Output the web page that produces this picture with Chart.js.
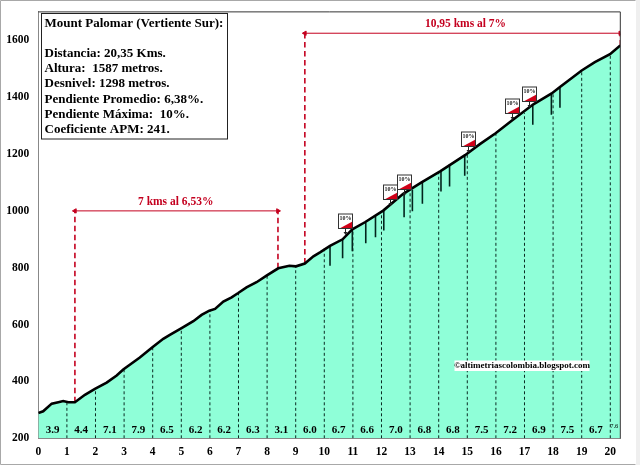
<!DOCTYPE html>
<html>
<head>
<meta charset="utf-8">
<title>Mount Palomar</title>
<script src="https://cdn.jsdelivr.net/npm/chart.js"></script>
<style>
  html, body { margin: 0; padding: 0; background: #fff; }
  #wrap { position: relative; width: 640px; height: 465px; overflow: hidden; }
  canvas { display: block; }
</style>
</head>
<body>
<div id="wrap"><canvas id="profile" width="640" height="465"></canvas></div>
<script>
// profile
const profileKm = [0, 0.17, 0.47, 0.7, 0.87, 1.05, 1.28, 1.63, 1.98, 2.39, 2.74, 2.97, 3.55, 3.99, 4.37, 4.6, 5.01, 5.42, 5.71, 5.98, 6.18, 6.47, 6.76, 6.99, 7.28, 7.63, 7.98, 8.39, 8.78, 9.01, 9.32, 9.62, 9.85, 10.2, 10.64, 10.98, 11.42, 12.06, 12.76, 13.4, 14.05, 14.92, 15.44, 15.99, 16.55, 17.31, 17.95, 18.24, 19, 19.46, 19.99, 20.35];
const profileElev = [289, 295, 322, 327, 331, 327, 327, 353, 374, 396, 421, 442, 484, 520, 550, 564, 588, 612, 634, 649, 655, 681, 696, 711, 731, 749, 772, 798, 807, 805, 815, 840, 854, 877, 900, 935, 960, 1001, 1060, 1100, 1139, 1196, 1235, 1273, 1317, 1375, 1413, 1436, 1494, 1523, 1551, 1582];

// dashed kilometre lines
const kmMarks = [1, 2, 3, 4, 5, 6, 7, 8, 9, 10, 11, 12, 13, 14, 15, 16, 17, 18, 19, 20];
const kmElev = [328, 375, 443, 521, 588, 650, 711, 773, 805, 870, 935, 997, 1071, 1135, 1203, 1273, 1345, 1417, 1494, 1551];

// slope of each kilometre
const slopeLabels = ['3.9', '4.4', '7.1', '7.9', '6.5', '6.2', '6.2', '6.3', '3.1', '6.0', '6.7', '6.6', '7.0', '6.8', '6.8', '7.5', '7.2', '6.9', '7.5', '6.7'];
const lastSlopeLabel = '7.6';

// short solid lines hanging under the profile
const steepKm = [10.2, 10.64, 10.98, 11.45, 11.79, 12.08, 12.79, 13.08, 13.43, 14.08, 14.38, 14.91, 17.29, 17.94, 18.24];
const steepTop = [877, 900, 935, 960, 985, 1006, 1058, 1074, 1100, 1143, 1164, 1196, 1375, 1413, 1436];
const steepBottom = [807, 833, 858, 886, 907, 931, 978, 999, 1025, 1068, 1086, 1124, 1303, 1338, 1363];

// 10% signs
const signKm = [10.72, 12.31, 12.78, 15.01, 16.56, 17.15];
const signElev = [915, 1018, 1053, 1204, 1320, 1363];
const signText = '10%';

// climb sections in red
const section1Km = [1.28, 8.38];
const section1Base = [327, 798];
const section1Top = 1000;
const section1Text = '7 kms al 6,53%';
const section2Km = [9.32, 20.35];
const section2Base = [815, 1582];
const section2Top = 1625;
const section2Text = '10,95 kms al 7%';

const infoLines = ['Mount Palomar (Vertiente Sur):', '', 'Distancia: 20,35 Kms.', 'Altura:  1587 metros.', 'Desnivel: 1298 metros.', 'Pendiente Promedio: 6,38%.', 'Pendiente Máxima:  10%.', 'Coeficiente APM: 241.'];
const creditText = '©altimetriascolombia.blogspot.com';

const RED = '#c4001f';
const SERIF = '"Liberation Serif", serif';

function segment(x1, y1, x2, y2, color, width, dash) {
  return {
    data: [{ x: x1, y: y1 }, { x: x2, y: y2 }],
    borderColor: color, borderWidth: width, borderDash: dash || [],
    pointRadius: 0, showLine: true, fill: false, order: 5
  };
}

function arrow(x1, x2, y) {
  return {
    data: [{ x: x1, y: y }, { x: x2, y: y }],
    borderColor: RED, borderWidth: 1, showLine: true, fill: false, order: 5,
    pointStyle: 'triangle', pointRadius: 2.5, pointBackgroundColor: RED, pointBorderColor: RED,
    pointRotation: [-90, 90]
  };
}

const profilePoints = profileKm.map((k, i) => ({ x: k, y: profileElev[i] }));
const datasets = [];
// area goes under the dashes, the line over them
datasets.push({ data: profilePoints, borderWidth: 0, backgroundColor: '#8fffd8', fill: 'start', pointRadius: 0, showLine: true, order: 10 });
datasets.push({ data: profilePoints, borderColor: '#000', borderWidth: 2.6, fill: false, pointRadius: 0, showLine: true, order: 1 });
kmMarks.forEach((k, i) => datasets.push(segment(k, 200, k, kmElev[i], '#0a2a22', 1, [3, 2.5])));
steepKm.forEach((k, i) => datasets.push(segment(k, steepTop[i], k, steepBottom[i], '#02241c', 1.6)));
section1Km.forEach((k, i) => datasets.push(segment(k, section1Base[i], k, section1Top, RED, 1.6, [5.5, 3.5])));
section2Km.forEach((k, i) => datasets.push(segment(k, section2Base[i], k, section2Top, RED, 1.6, [5.5, 3.5])));
datasets.push(arrow(section1Km[0], section1Km[1], section1Top));
datasets.push(arrow(section2Km[0], section2Km[1], section2Top));

// everything that is not a mark: frame, info box, labels, signs
const overlay = {
  id: 'overlay',
  afterDatasetsDraw(chart) {
    const ctx = chart.ctx, xs = chart.scales.x, ys = chart.scales.y, a = chart.chartArea;
    ctx.save();

    // plot frame, dark on top and right
    ctx.strokeStyle = '#333'; ctx.lineWidth = 1;
    ctx.beginPath();
    ctx.moveTo(a.left, a.top); ctx.lineTo(a.right, a.top); ctx.lineTo(a.right, a.bottom);
    ctx.stroke();

    // slope numbers
    ctx.fillStyle = '#000'; ctx.textAlign = 'center'; ctx.textBaseline = 'middle';
    ctx.font = 'bold 11px ' + SERIF;
    slopeLabels.forEach((t, i) => ctx.fillText(t, xs.getPixelForValue(i + 0.5), 430));
    ctx.font = '6.5px ' + SERIF;
    ctx.fillText(lastSlopeLabel, xs.getPixelForValue(20.14), 426);

    // section captions
    ctx.fillStyle = RED; ctx.font = 'bold 11.5px ' + SERIF;
    ctx.fillText(section1Text, 175.7, 202);
    ctx.fillText(section2Text, 465.5, 24);

    // credit
    ctx.fillStyle = '#fff'; ctx.fillRect(454.5, 360.5, 135, 10.5);
    ctx.fillStyle = '#000'; ctx.font = 'bold 9px ' + SERIF;
    ctx.fillText(creditText, 522, 366);

    // signs
    signKm.forEach((k, i) => {
      const px = Math.round(xs.getPixelForValue(k)) + 0.5, py = Math.round(ys.getPixelForValue(signElev[i]));
      const l = px - 7, t = py - 21, w = 14, h = 14.5;
      ctx.strokeStyle = '#222'; ctx.lineWidth = 1;
      ctx.beginPath(); ctx.moveTo(px, t + h); ctx.lineTo(px, py - 1); ctx.stroke();
      ctx.fillStyle = '#222';
      ctx.beginPath(); ctx.moveTo(px - 2, py - 3); ctx.lineTo(px + 2, py - 3); ctx.lineTo(px, py); ctx.fill();
      ctx.fillStyle = '#fff'; ctx.fillRect(l, t, w, h);
      ctx.fillStyle = '#d00018';
      ctx.beginPath(); ctx.moveTo(l + 1, t + h); ctx.lineTo(l + w, t + h - 7); ctx.lineTo(l + w, t + h); ctx.fill();
      ctx.strokeStyle = '#333'; ctx.strokeRect(l, t, w, h);
      ctx.fillStyle = '#222'; ctx.font = 'bold 6px ' + SERIF;
      ctx.fillText(signText, px, t + 4.5);
    });

    // info box
    ctx.fillStyle = '#fff'; ctx.fillRect(41.5, 13.5, 186, 125.5);
    ctx.strokeStyle = '#222'; ctx.lineWidth = 1; ctx.strokeRect(41.5, 13.5, 186, 125.5);
    ctx.fillStyle = '#000'; ctx.textAlign = 'left';
    ctx.font = 'bold 13px ' + SERIF;
    const lineY = [24, 39, 54, 69, 84, 100, 115, 130];
    infoLines.forEach((t, i) => ctx.fillText(t, 44.5, lineY[i]));

    // picture border
    ctx.strokeStyle = '#a8a8a8'; ctx.lineWidth = 1;
    ctx.beginPath();
    ctx.moveTo(635.5, 0.5); ctx.lineTo(0.5, 0.5); ctx.lineTo(0.5, 464.5); ctx.lineTo(635.5, 464.5);
    ctx.stroke();
    ctx.fillStyle = '#efefef'; ctx.fillRect(636, 0, 4, 465);
    ctx.restore();
  }
};

new Chart(document.getElementById('profile').getContext('2d'), {
  type: 'scatter',
  data: { datasets: datasets },
  plugins: [overlay],
  options: {
    responsive: false,
    animation: false,
    layout: { padding: { top: 10.7, right: 19.7, left: 0, bottom: 0 } },
    plugins: { legend: { display: false }, tooltip: { enabled: false } },
    scales: {
      x: {
        type: 'linear', min: 0, max: 20.35,
        afterFit(s) { s.height = 26.7; },
        grid: { display: false, tickLength: 4, tickColor: '#888' },
        border: { color: '#888', width: 1 },
        ticks: { stepSize: 1, includeBounds: false, autoSkip: false, maxRotation: 0, color: '#000', padding: 3, font: { family: SERIF, weight: 'bold', size: 11.5 } }
      },
      y: {
        type: 'linear', min: 200, max: 1700,
        afterFit(s) { s.width = 38.3; },
        grid: { display: false, tickLength: 4, tickColor: '#888' },
        border: { color: '#888', width: 1 },
        ticks: { stepSize: 200, includeBounds: false, color: '#000', padding: 5, font: { family: SERIF, weight: 'bold', size: 11.5 }, callback: v => String(v) }
      }
    }
  }
});
</script>
</body>
</html>
